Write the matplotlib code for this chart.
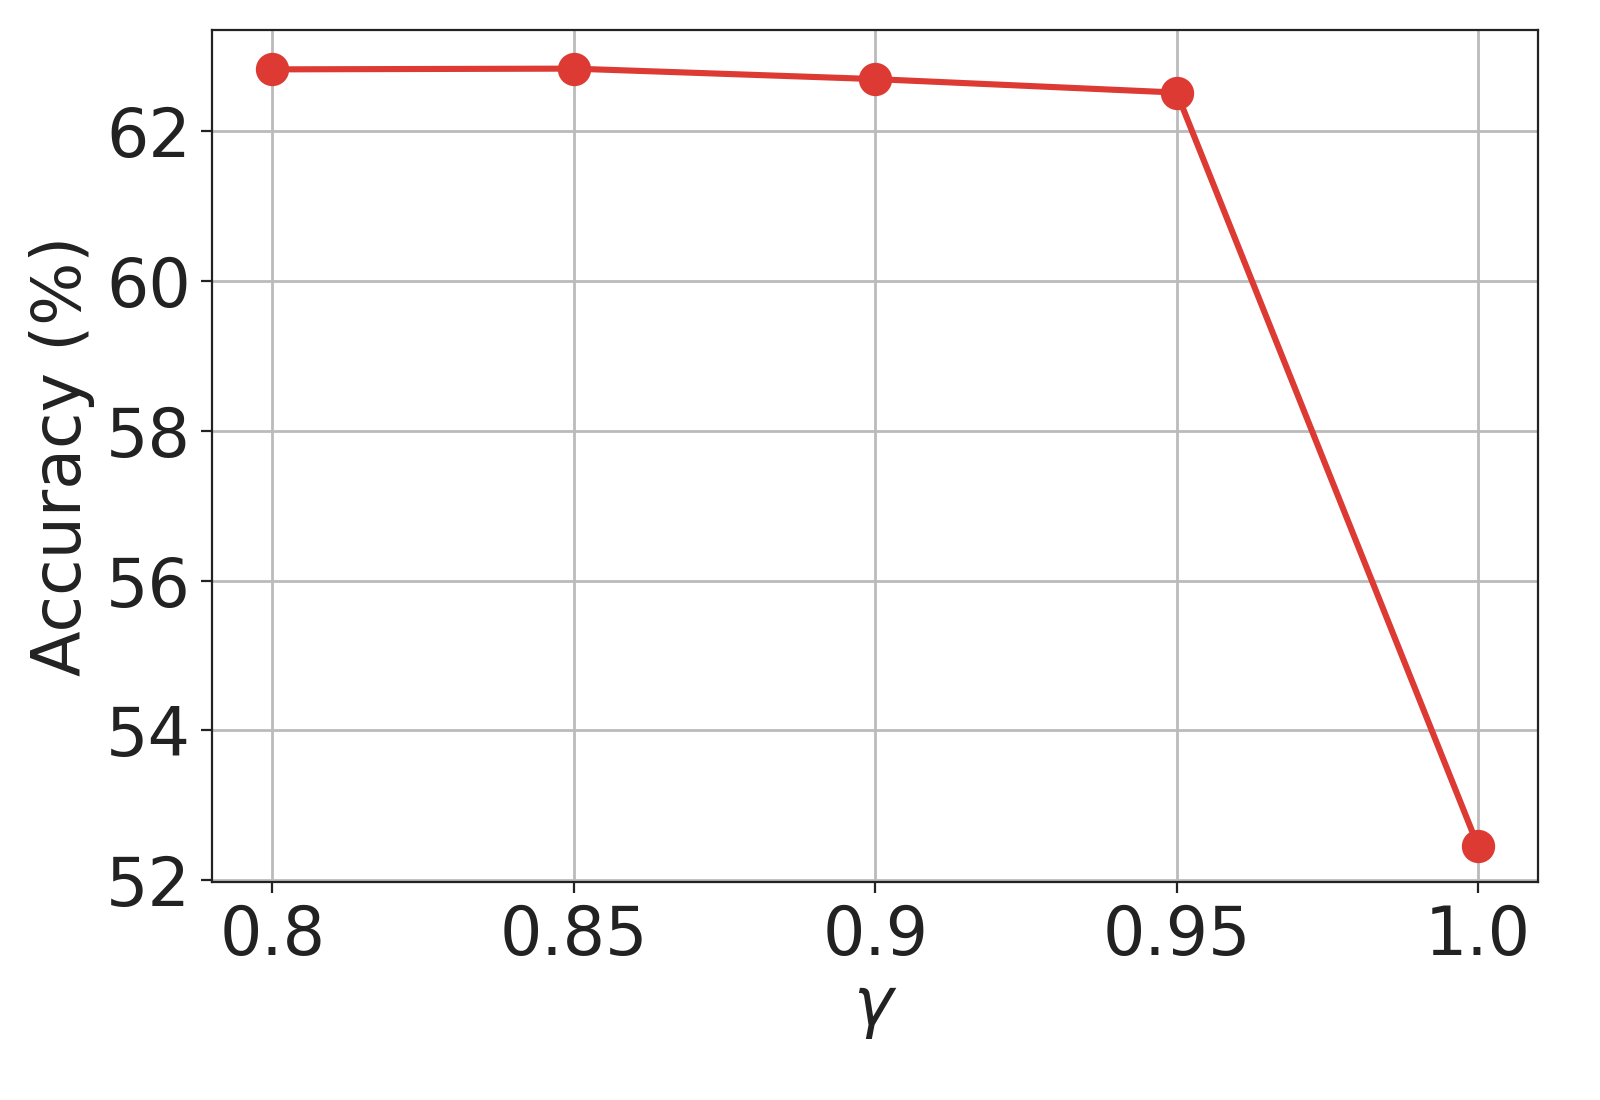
import matplotlib
matplotlib.use("Agg")
import matplotlib.pyplot as plt

gamma_labels = ["0.8", "0.85", "0.9", "0.95", "1.0"]
accuracy = [62.83, 62.84, 62.70, 62.52, 52.45]
y_ticks = [52, 54, 56, 58, 60, 62]

fig = plt.figure(figsize=(8, 5.5), dpi=200)
ax = fig.add_axes([0.1325, 0.198, 0.829, 0.775])
x = list(range(len(gamma_labels)))
ax.plot(x, accuracy, color="#dc3a33", linewidth=2.2, marker="o", markersize=11, zorder=3)

ax.set_xticks(x)
ax.set_xticklabels(gamma_labels)
ax.set_yticks(y_ticks)
ax.set_xlim(-0.2, 4.2)
ax.set_ylim(51.97, 63.36)
ax.grid(True, color="#bbbbbb", linewidth=1)
ax.tick_params(labelsize=24, colors="#222222", length=4)
for s in ax.spines.values():
    s.set_color("#222222")
ax.set_xlabel(r"$\gamma$", fontsize=24, color="#222222", labelpad=2)
ax.set_ylabel("Accuracy (%)", fontsize=24, color="#222222")

fig.savefig("out.png")
